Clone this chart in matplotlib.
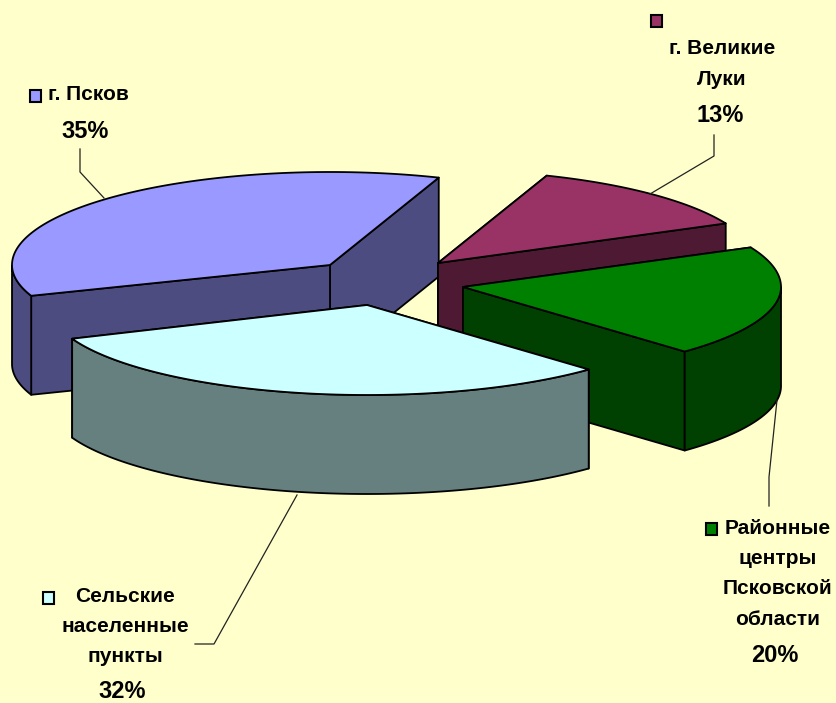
import numpy as np
import matplotlib
matplotlib.use("Agg")
import matplotlib.pyplot as plt
from matplotlib.patches import Polygon, Rectangle

plt.rcParams['font.family'] = ['Liberation Sans', 'DejaVu Sans']

categories = ["г. Псков", "г. Великие\nЛуки", "Районные\nцентры\nПсковской\nобласти", "Сельские\nнаселенные\nпункты"]
shares = [35, 13, 20, 32]
top_colors = ["#9999FF", "#993366", "#008000", "#CCFFFF"]
wall_colors = ["#4C4C80", "#4D1933", "#004000", "#668080"]

# page is laid out in pixels, y goes down
W, H = 836, 703
BG = "#FFFFCC"
RX, RY_BACK, RY_FRONT = 318, 93, 90
DEPTH = 99
START = 199
# small turn of the cuts, the original has some perspective
view_turn = [1, -3, -1, 0, 3]
apex = [(330, 265), (438, 263), (463, 287), (367, 305)]

# first text line centre for each label, percent centre, legend key centre
text_pos = [(88, 94), (722, 49), (778, 528), (125, 596)]
pct_pos = [(85, 132), (720, 115), (775, 655), (122, 691)]
key_pos = [(35, 96), (656, 21), (711, 529), (48, 598)]
leaders = [
    [(80, 149), (80, 172), (104, 198)],
    [(714, 135), (714, 156), (650, 194)],
    [(769, 506), (769, 477), (777, 400)],
    [(195, 644), (214, 644), (297, 495)],
]

fig = plt.figure(figsize=(W / 100, H / 100), dpi=100, facecolor=BG)
ax = fig.add_axes([0, 0, 1, 1])
ax.set_xlim(0, W)
ax.set_ylim(H, 0)
ax.axis("off")


def rim(c, t):
    s = np.sin(t)
    ry = np.where(s < 0, RY_FRONT, RY_BACK)
    return np.column_stack([c[0] + RX * np.cos(t), c[1] - ry * s])


def poly(pts, color):
    ax.add_patch(Polygon(pts, closed=True, facecolor=color, edgecolor="black", lw=1.3, joinstyle="round"))


def draw_slice(c, a0, a1, top, wall):
    # a0 > a1, clockwise, degrees
    t = np.radians(np.linspace(a0, a1, 200))
    edge = rim(c, t)
    down = np.array([0, DEPTH])
    # side cuts, the back one first
    ends = sorted([t[0], t[-1]], key=lambda x: -np.sin(x))
    for e in ends:
        p = rim(c, np.array([e]))[0]
        poly([c, p, p + down, np.array(c) + down], wall)
    # round outer wall, only the front half shows
    front = np.sin(t) < 0
    if front.any():
        idx = np.where(front)[0]
        for run in np.split(idx, np.where(np.diff(idx) > 1)[0] + 1):
            seg = edge[run]
            poly(np.vstack([seg, (seg + down)[::-1]]), wall)
    poly(np.vstack([[c], edge]), top)


cuts = START - np.concatenate([[0], np.cumsum(shares)]) / sum(shares) * 360 + np.array(view_turn)
for i in range(len(shares)):
    draw_slice(apex[i], cuts[i], cuts[i + 1], top_colors[i], wall_colors[i])

for pts in leaders:
    xs, ys = zip(*pts)
    ax.plot(xs, ys, color="#222222", lw=0.9)

STEP = 30.5
for i, cat in enumerate(categories):
    for j, line in enumerate(cat.split("\n")):
        x, y = text_pos[i]
        ax.text(x, y + j * STEP, line, ha="center", va="center", fontsize=15, fontweight="bold", color="black")
    ax.text(pct_pos[i][0], pct_pos[i][1], f"{shares[i]}%", ha="center", va="center", fontsize=17, fontweight="bold", color="black")
    kx, ky = key_pos[i]
    ax.add_patch(Rectangle((kx - 5.5, ky - 6), 11, 12, facecolor=top_colors[i], edgecolor="black", lw=1.5))

fig.savefig("out.png", dpi=100, facecolor=BG)
